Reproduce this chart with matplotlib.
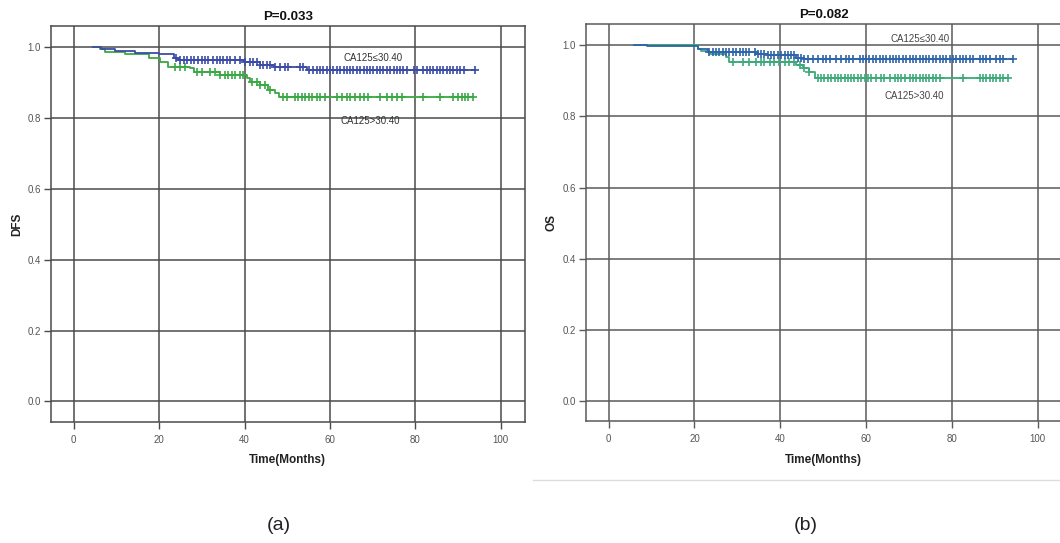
import numpy as np
import matplotlib
matplotlib.use("Agg")
import matplotlib.pyplot as plt
from matplotlib.lines import Line2D

plt.rcParams["font.family"] = ["Liberation Sans", "DejaVu Sans"]

# ---- (a) DFS ----
dfs_low_start = 4.5
dfs_low_t = [6.4, 9.7, 14.3, 20.0, 23.5, 24.5, 39.8, 43.6, 46.8, 54.6]
dfs_low_s = [0.995, 0.990, 0.985, 0.980, 0.971, 0.964, 0.959, 0.950, 0.943, 0.935]
dfs_low_cens = [24, 25, 25.8, 26.6, 27.4, 28.2, 29, 30, 30.8, 31.5, 32.7, 33.5, 34.3, 35,
                35.8, 36.6, 37.8, 39, 40.1, 41.3, 42.1, 42.9, 43.6, 44.4, 45.2, 46, 47.2,
                48.3, 49.5, 50.3, 53, 53.8, 55, 56.1, 56.9, 57.7, 58.5, 59.3, 60.1, 60.8,
                61.6, 62.4, 63.2, 64, 64.7, 65.5, 66.3, 67.1, 67.9, 68.6, 69.4, 70.2, 71,
                71.8, 72.5, 73.3, 74.1, 74.9, 75.7, 76.4, 77.2, 78, 79.6, 80.3, 81.9, 82.7,
                83.4, 84.2, 85, 85.8, 86.6, 87.4, 88.1, 88.9, 89.7, 90.5, 91.3, 94.0]

dfs_high_start = 4.5
dfs_high_t = [6.1, 7.3, 12.0, 17.6, 20.3, 22.0, 27.3, 28.2, 34.3, 40.5, 41.3, 43.6,
              45.6, 47.2, 48.0]
dfs_high_s = [0.995, 0.988, 0.981, 0.971, 0.957, 0.945, 0.941, 0.931, 0.922, 0.913,
              0.903, 0.894, 0.880, 0.871, 0.860]
dfs_high_cens = [23.7, 24.9, 26.1, 28.8, 30, 31.9, 33.1, 34.3, 35.5, 36.2, 37, 37.8, 39,
                 39.7, 41.7, 42.9, 43.6, 44.8, 46, 49.1, 49.9, 51.8, 52.6, 53.4, 54.2, 55,
                 55.7, 56.9, 57.7, 58.9, 61.6, 62.8, 63.9, 64.7, 65.9, 67.1, 67.9, 69,
                 71.8, 73.3, 74.5, 75.7, 76.8, 81.9, 85.8, 88.9, 90.1, 90.9, 91.7, 92.4, 93.6]

# ---- (b) OS ----
os_low_start = 6.0
os_low_t = [9.0, 20.8, 23.1, 34.4, 37.0, 43.7, 45.6]
os_low_s = [0.997, 0.990, 0.982, 0.975, 0.972, 0.965, 0.961]
os_low_cens = [23.5, 24.3, 25.0, 25.8, 26.6, 27.4, 28.1, 28.9, 29.7, 30.5, 31.3, 32.0,
               32.8, 34.0, 34.8, 35.5, 36.3, 37.1, 37.9, 38.6, 39.4, 40.2, 41.0, 41.8,
               42.5, 43.3, 44.1, 44.9, 45.6, 46.4, 47.6, 48.8, 49.9, 50.7, 51.5, 53.0,
               54.2, 55.4, 56.1, 56.9, 58.5, 59.3, 60.0, 60.8, 61.6, 62.4, 63.2, 63.9,
               64.7, 65.5, 66.3, 67.0, 67.8, 68.6, 69.4, 70.2, 70.9, 71.7, 72.5, 73.3,
               74.0, 74.8, 75.6, 76.4, 77.2, 77.9, 78.7, 79.5, 80.3, 81.0, 81.8, 82.6,
               83.4, 84.2, 84.9, 86.5, 87.3, 88.0, 88.8, 90.4, 91.2, 91.9, 94.3]

os_high_start = 6.0
os_high_t = [20.8, 21.5, 23.5, 27.4, 28.1, 43.7, 45.3, 46.8, 48.0]
os_high_s = [0.990, 0.985, 0.975, 0.966, 0.954, 0.945, 0.936, 0.926, 0.907]
os_high_cens = [28.9, 31.3, 32.8, 34.4, 35.5, 36.3, 37.5, 38.6, 39.8, 41, 42.1, 43.3,
                44.5, 45.6, 46.8, 48.8, 49.5, 50.3, 51.1, 51.9, 52.7, 53.4, 54.2, 55,
                55.8, 56.5, 57.3, 58.1, 58.9, 59.7, 60.4, 61.2, 62.4, 63.5, 64.3, 65.5,
                66.7, 67.4, 68.2, 69, 70.2, 70.9, 71.7, 72.5, 73.3, 74, 74.8, 75.6, 76.4,
                77.2, 82.6, 86.5, 87.3, 88, 88.8, 89.6, 90.4, 91.2, 91.9, 93.1]

x_ticks = [0, 20, 40, 60, 80, 100]
y_ticks = [0.0, 0.2, 0.4, 0.6, 0.8, 1.0]
y_tick_labels = ["0.0", "0.2", "0.4", "0.6", "0.8", "1.0"]


def km_curve(ax, start, times, surv, cens, color):
    end = max(cens)
    xs = np.array([start] + list(times) + [end])
    ys = np.array([1.0] + list(surv) + [surv[-1]])
    ax.step(xs, ys, where="post", color=color, lw=1.3, zorder=3)
    idx = np.searchsorted(xs, cens, side="right") - 1
    ax.plot(cens, ys[idx], ls="none", marker="+", ms=6, mew=1.2, color=color, zorder=4)


def style_axes(ax, grid_color, ylabel, title):
    ax.set_xlim(-5.4, 105.7)
    ax.set_ylim(-0.058, 1.06)
    ax.set_xticks(x_ticks)
    ax.set_yticks(y_ticks)
    ax.set_yticklabels(y_tick_labels)
    ax.grid(True, color=grid_color, lw=1.1)
    ax.set_axisbelow(True)
    for sp in ax.spines.values():
        sp.set_color(grid_color)
        sp.set_linewidth(1.1)
    ax.tick_params(axis="both", direction="out", length=5, width=1.0, color=grid_color,
                   labelsize=7, labelcolor="#555555")
    ax.tick_params(axis="x", pad=4)
    ax.tick_params(axis="y", pad=2)
    ax.set_ylabel(ylabel, fontsize=8.5, fontweight="bold", color="#222222")
    ax.yaxis.set_label_coords(-0.058, 0.5)
    ax.set_xlabel("Time(Months)", fontsize=8.5, fontweight="bold", color="#222222")
    ax.xaxis.set_label_coords(0.5, -0.082)
    ax.set_title(title, fontsize=9.5, fontweight="bold", color="#111111", pad=4)


fig = plt.figure(figsize=(10.6, 5.43), dpi=100)

ax1 = fig.add_axes([0.0478, 0.2228, 0.4475, 0.7293])
km_curve(ax1, dfs_high_start, dfs_high_t, dfs_high_s, dfs_high_cens, "#3aa844")
km_curve(ax1, dfs_low_start, dfs_low_t, dfs_low_s, dfs_low_cens, "#3b4ca6")
style_axes(ax1, "#4a4a4a", "DFS", "P=0.033")
ax1.text(70.1, 0.970, "CA125\u226430.40", fontsize=7, color="#333333", ha="center", va="center")
ax1.text(69.4, 0.792, "CA125>30.40", fontsize=7, color="#333333", ha="center", va="center")

ax2 = fig.add_axes([0.5524, 0.2238, 0.4495, 0.732])
km_curve(ax2, os_high_start, os_high_t, os_high_s, os_high_cens, "#3ea97a")
km_curve(ax2, os_low_start, os_low_t, os_low_s, os_low_cens, "#2e64a8")
style_axes(ax2, "#5a5a5a", "OS", "P=0.082")
ax2.text(72.5, 1.019, "CA125\u226430.40", fontsize=7, color="#444444", ha="center", va="center")
ax2.text(71.3, 0.857, "CA125>30.40", fontsize=7, color="#444444", ha="center", va="center")

fig.add_artist(Line2D([533 / 1060, 1.0], [1 - 480 / 543] * 2, color="#dddddd", lw=1.0))
fig.text(279 / 1060, 1 - 526 / 543, "(a)", fontsize=14, color="#222222", ha="center", va="center")
fig.text(806 / 1060, 1 - 526 / 543, "(b)", fontsize=14, color="#222222", ha="center", va="center")

fig.savefig("out.png", dpi=100)
